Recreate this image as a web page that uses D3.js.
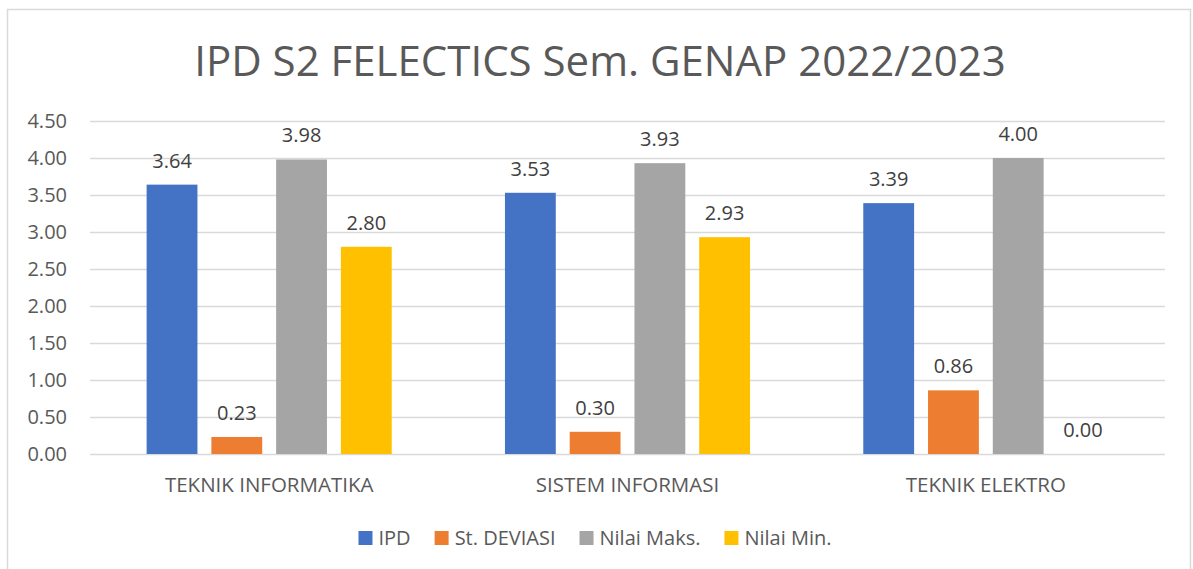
<!DOCTYPE html>
<html>
<head>
<meta charset="utf-8">
<script src="https://cdn.jsdelivr.net/npm/d3@7"></script>
<style>
  body { margin: 0; background: #fff; }
  text { font-family: "Open Sans", "Noto Sans", sans-serif; fill: #595959; }
</style>
</head>
<body>
<svg class="chart"></svg>
<script>
let categories = ['TEKNIK INFORMATIKA', 'SISTEM INFORMASI', 'TEKNIK ELEKTRO'];
let seriesNames = ['IPD', 'St. DEVIASI', 'Nilai Maks.', 'Nilai Min.'];
let ipd = [3.64, 3.53, 3.39];
let stDeviasi = [0.23, 0.30, 0.86];
let nilaiMaks = [3.98, 3.93, 4.00];
let nilaiMin = [2.80, 2.93, 0.00];
let yTicks = [0, 0.5, 1, 1.5, 2, 2.5, 3, 3.5, 4, 4.5];
let colors = ['#4472C4', '#ED7D31', '#A5A5A5', '#FFC000'];

let seriesValues = [ipd, stDeviasi, nilaiMaks, nilaiMin];

let W = 1193, H = 569;
let margin = { top: 121, right: 28, bottom: 115, left: 90 };
let width = W - margin.left - margin.right;
let height = H - margin.top - margin.bottom;

let svg = d3.select('.chart').attr('width', W).attr('height', H);

// outer border
svg.append('rect')
    .attr('x', 7.5).attr('y', 9.5)
    .attr('width', 1183).attr('height', 575)
    .attr('fill', 'none')
    .attr('stroke', '#d9d9d9')
    .attr('stroke-width', 1.5);

svg.append('text')
    .attr('x', 600).attr('y', 76)
    .attr('text-anchor', 'middle')
    .style('font-size', '42px')
    .text('IPD S2 FELECTICS Sem. GENAP 2022/2023');

let chart = svg.append('g')
    .attr('transform', `translate(${margin.left},${margin.top})`);

let x0 = d3.scaleBand().domain(categories).range([0, width]).padding(0);
let outer = x0.bandwidth() * 0.158;
let x1 = d3.scaleBand().domain(seriesNames)
    .range([outer, x0.bandwidth() - outer])
    .paddingInner(0.215).paddingOuter(0);
let y = d3.scaleLinear().domain([0, 4.5]).range([height, 0]);

// gridlines
chart.append('g')
  .selectAll('line')
  .data(yTicks)
  .enter().append('line')
    .attr('x1', 0).attr('x2', width)
    .attr('y1', (d) => Math.round(y(d)) + 0.5)
    .attr('y2', (d) => Math.round(y(d)) + 0.5)
    .attr('stroke', '#d9d9d9')
    .attr('stroke-width', 1.5);

let yAxis = d3.axisLeft(y)
    .tickValues(yTicks)
    .tickFormat(d3.format('.2f'))
    .tickSize(0)
    .tickPadding(23);

chart.append('g')
    .call(yAxis)
    .call((g) => g.select('.domain').remove())
    .selectAll('text')
    .style('font-size', '20px')
    .style('fill', '#595959');

let xAxis = d3.axisBottom(x0).tickSize(0).tickPadding(23);
chart.append('g')
    .attr('transform', `translate(0,${height})`)
    .call(xAxis)
    .call((g) => g.select('.domain').remove())
    .selectAll('text')
    .style('font-size', '20.5px')
    .style('fill', '#595959');

let rows = [];
categories.forEach((c, i) => {
  seriesNames.forEach((s, j) => {
    rows.push({ cat: c, series: s, value: seriesValues[j][i], color: colors[j] });
  });
});

chart.selectAll('.bar')
    .data(rows)
  .enter().append('rect')
    .attr('class', 'bar')
    .attr('x', (d) => x0(d.cat) + x1(d.series))
    .attr('y', (d) => y(d.value))
    .attr('width', x1.bandwidth())
    .attr('height', (d) => height - y(d.value))
    .attr('fill', (d) => d.color);

chart.selectAll('.label')
    .data(rows)
  .enter().append('text')
    .attr('class', 'label')
    .attr('x', (d) => x0(d.cat) + x1(d.series) + x1.bandwidth() / 2)
    .attr('y', (d) => y(d.value) - 17)
    .attr('text-anchor', 'middle')
    .style('font-size', '20px')
    .style('fill', '#404040')
    .text((d) => d3.format('.2f')(d.value));

// legend
let legend = svg.append('g').attr('transform', 'translate(0,538)');
let items = legend.selectAll('g')
    .data(seriesNames)
  .enter().append('g');
items.append('rect')
    .attr('width', 14).attr('height', 14)
    .attr('y', -7)
    .attr('fill', (d, i) => colors[i]);
items.append('text')
    .attr('x', 20)
    .attr('dy', '0.35em')
    .style('font-size', '20px')
    .text((d) => d);

let xPos = [];
let total = 0;
items.each(function(d, i) {
  let w = 20 + this.querySelector('text').getComputedTextLength();
  xPos.push(total);
  total += w + 24;
});
total -= 24;
let start = 595 - total / 2;
items.attr('transform', (d, i) => `translate(${start + xPos[i]},0)`);
</script>
</body>
</html>
